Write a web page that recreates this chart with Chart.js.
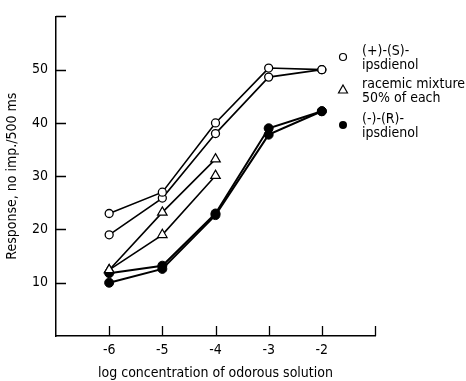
<!DOCTYPE html>
<html>
<head>
<meta charset="utf-8">
<script src="https://cdn.jsdelivr.net/npm/chart.js@4"></script>
<style>
  html, body { margin: 0; padding: 0; background: #fff; }
  #wrap { width: 466px; height: 381px; }
</style>
</head>
<body>
<div id="wrap"><canvas id="chart" width="466" height="381"></canvas></div>
<script>
// data
const logConc = [-6, -5, -4, -3, -2];
const plusS_a = [23, 27, 40, 50.3, 50];
const plusS_b = [19, 25.9, 38, 48.6, 50];
const racemic_a = [12.4, 23.2, 33.2];
const racemic_b = [12.4, 19, 30.1];
const minusR_a = [11.8, 13.2, 23, 39, 42.2];
const minusR_b = [10, 12.6, 22.7, 37.8, 42.2];
const xTicks = [-6, -5, -4, -3, -2, -1];
const yTicks = [10, 20, 30, 40, 50, 60];
const legendLines = [
    ['(+)-(S)-', 'ipsdienol'],
    ['racemic mixture', '50% of each'],
    ['(-)-(R)-', 'ipsdienol']
];

const FONT = '"DejaVu Sans Condensed", "DejaVu Sans", sans-serif';

const toPts = (ys) => ys.map((y, i) => ({ x: logConc[i], y: y }));

const openCircle = { pointStyle: 'circle', pointRadius: 4, pointBackgroundColor: '#fff', pointBorderColor: '#000', pointBorderWidth: 1.3, borderColor: '#000', borderWidth: 1.6 };
const openTri = { pointStyle: 'triangle', pointRadius: 5.5, pointBackgroundColor: '#fff', pointBorderColor: '#000', pointBorderWidth: 1.2, borderColor: '#000', borderWidth: 1.6 };
const filled = { pointStyle: 'circle', pointRadius: 4.5, pointBackgroundColor: '#000', pointBorderColor: '#000', pointBorderWidth: 1, borderColor: '#000', borderWidth: 2 };

// inward tick marks like the original plot
const innerTicks = {
    id: 'innerTicks',
    afterDraw(chart) {
        const { ctx, chartArea, scales } = chart;
        ctx.save();
        ctx.strokeStyle = '#000';
        ctx.lineWidth = 1.3;
        ctx.beginPath();
        xTicks.forEach(v => {
            const px = Math.round(scales.x.getPixelForValue(v)) + 0.5;
            ctx.moveTo(px, chartArea.bottom);
            ctx.lineTo(px, chartArea.bottom - 10);
        });
        yTicks.forEach(v => {
            const py = Math.round(scales.y.getPixelForValue(v)) + 0.5;
            ctx.moveTo(chartArea.left, py);
            ctx.lineTo(chartArea.left + 10, py);
        });
        ctx.stroke();
        ctx.restore();
    }
};

// legend with symbol on the left and two text lines per entry
const sideLegend = {
    id: 'sideLegend',
    afterDraw(chart) {
        const { ctx } = chart;
        const symX = 343, textX = 362;
        const tops = [51, 84, 119];
        ctx.save();
        ctx.font = '14px ' + FONT;
        ctx.fillStyle = '#000';
        ctx.textBaseline = 'middle';
        legendLines.forEach((lines, i) => {
            ctx.fillText(lines[0], textX, tops[i]);
            ctx.fillText(lines[1], textX, tops[i] + 14);
        });
        ctx.strokeStyle = '#000';
        ctx.lineWidth = 1.2;
        // open circle
        ctx.beginPath();
        ctx.fillStyle = '#fff';
        ctx.arc(symX, 57, 3.5, 0, Math.PI * 2);
        ctx.fill(); ctx.stroke();
        // triangle
        ctx.beginPath();
        ctx.moveTo(symX, 85);
        ctx.lineTo(symX + 4.5, 93);
        ctx.lineTo(symX - 4.5, 93);
        ctx.closePath();
        ctx.stroke();
        // filled circle
        ctx.beginPath();
        ctx.fillStyle = '#000';
        ctx.arc(symX, 125, 4, 0, Math.PI * 2);
        ctx.fill();
        ctx.restore();
    }
};

new Chart(document.getElementById('chart').getContext('2d'), {
    type: 'line',
    data: {
        // first dataset is drawn on top
        datasets: [
            Object.assign({ data: toPts(plusS_a) }, openCircle),
            Object.assign({ data: toPts(plusS_b) }, openCircle),
            Object.assign({ data: toPts(racemic_a) }, openTri),
            Object.assign({ data: toPts(racemic_b) }, openTri),
            Object.assign({ data: toPts(minusR_a) }, filled),
            Object.assign({ data: toPts(minusR_b) }, filled)
        ]
    },
    options: {
        responsive: false,
        animation: false,
        layout: { padding: { left: 0, top: 13, right: 91, bottom: 0 } },
        plugins: { legend: { display: false }, tooltip: { enabled: false } },
        elements: { line: { tension: 0 } },
        scales: {
            x: {
                type: 'linear', min: -7, max: -1,
                afterFit: (s) => { s.height = 45; },
                afterBuildTicks: (s) => { s.ticks = [-7, -6, -5, -4, -3, -2, -1].map(v => ({ value: v })); },
                ticks: {
                    color: '#000', padding: 6, maxRotation: 0,
                    font: { family: FONT, size: 14 },
                    callback: (v) => (v <= -7 || v >= -1) ? '' : String(v)
                },
                grid: { display: false, drawTicks: false },
                border: { color: '#000', width: 1.5 },
                title: { display: true, text: 'log concentration of odorous solution', color: '#000', font: { family: FONT, size: 14 }, padding: { top: 4, bottom: -1 } }
            },
            y: {
                min: 0, max: 60,
                afterFit: (s) => { s.width = 56; },
                ticks: {
                    stepSize: 10, color: '#000', padding: 8,
                    font: { family: FONT, size: 14 },
                    callback: (v) => (v === 0 || v === 60) ? '' : String(v)
                },
                grid: { display: false, drawTicks: false },
                border: { color: '#000', width: 1.5 },
                title: { display: true, text: 'Response, no imp./500 ms', color: '#000', font: { family: FONT, size: 14 }, padding: { bottom: 4 } }
            }
        }
    },
    plugins: [innerTicks, sideLegend]
});
</script>
</body>
</html>
